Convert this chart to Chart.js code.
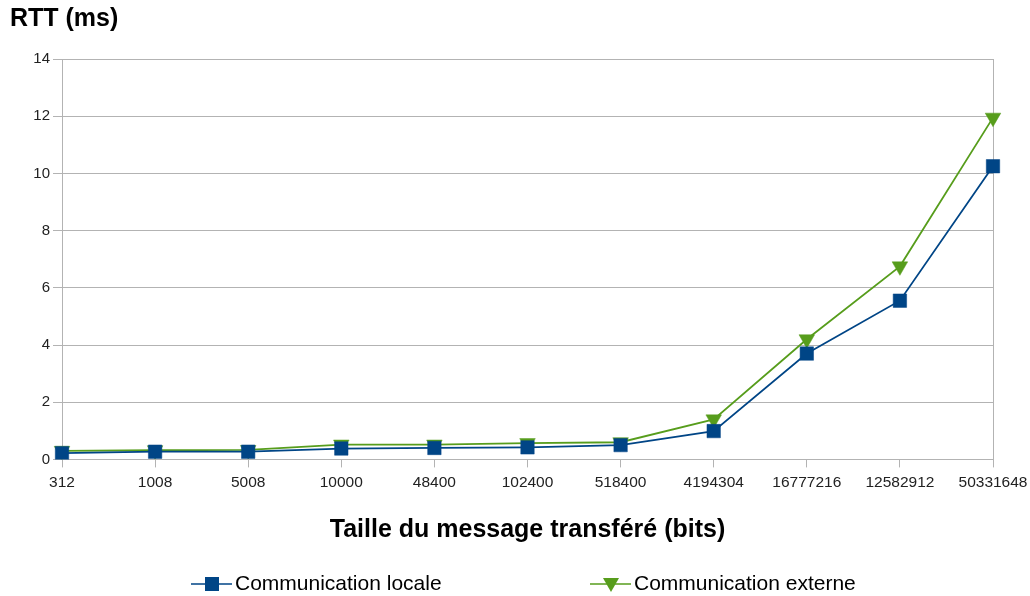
<!DOCTYPE html>
<html>
<head>
<meta charset="utf-8">
<script src="https://cdn.jsdelivr.net/npm/chart.js@4.4.1/dist/chart.umd.min.js"></script>
<style>
  html, body { margin: 0; padding: 0; background: #fff; }
  #wrap { width: 1030px; height: 596px; }
</style>
</head>
<body>
<div id="wrap"><canvas id="rttChart" width="1030" height="596"></canvas></div>
<script>
// Tailles de message (bits)
const categories = ['312', '1008', '5008', '10000', '48400', '102400', '518400', '4194304', '16777216', '12582912', '50331648'];
// RTT en ms
const localValues = [0.22, 0.27, 0.27, 0.38, 0.40, 0.42, 0.50, 0.99, 3.70, 5.55, 10.25];
const externalValues = [0.30, 0.32, 0.33, 0.52, 0.52, 0.57, 0.60, 1.40, 4.20, 6.75, 11.95];
const yTicks = [0, 2, 4, 6, 8, 10, 12, 14];

const BLUE = '#004586';
const GREEN = '#579d1c';
const FONT = '"Liberation Sans", Arial, sans-serif';

// Légende dessinée à la main (ligne + marqueur, comme LibreOffice)
const customLegend = {
    id: 'customLegend',
    afterDraw(chart) {
        const ctx = chart.ctx;
        const y = 584;
        const items = [
            { x: 191, label: chart.data.datasets[0].label, color: BLUE, shape: 'rect' },
            { x: 590, label: chart.data.datasets[1].label, color: GREEN, shape: 'tri' }
        ];
        ctx.save();
        items.forEach(it => {
            ctx.strokeStyle = it.color;
            ctx.lineWidth = 1.5;
            ctx.beginPath();
            ctx.moveTo(it.x, y);
            ctx.lineTo(it.x + 41, y);
            ctx.stroke();
            ctx.fillStyle = it.color;
            const cx = it.x + 21;
            if (it.shape === 'rect') {
                ctx.fillRect(cx - 7, y - 7, 14, 14);
            } else {
                ctx.beginPath();
                ctx.moveTo(cx - 8, y - 6);
                ctx.lineTo(cx + 8, y - 6);
                ctx.lineTo(cx, y + 8);
                ctx.closePath();
                ctx.fill();
            }
            ctx.fillStyle = '#000';
            ctx.font = '21px ' + FONT;
            ctx.textBaseline = 'middle';
            ctx.textAlign = 'left';
            ctx.fillText(it.label, it.x + 44, y);
        });
        ctx.restore();
    }
};

new Chart(document.getElementById('rttChart'), {
    type: 'line',
    data: {
        labels: categories,
        datasets: [{
            label: 'Communication locale',
            data: localValues,
            borderColor: BLUE,
            backgroundColor: BLUE,
            borderWidth: 1.8,
            pointStyle: 'rect',
            pointRadius: 9.5,
            pointHoverRadius: 9.5,
            pointBorderWidth: 0.5,
            tension: 0
        }, {
            label: 'Communication externe',
            data: externalValues,
            borderColor: GREEN,
            backgroundColor: GREEN,
            borderWidth: 1.8,
            pointStyle: 'triangle',
            rotation: 180,
            pointRadius: 9,
            pointHoverRadius: 9,
            pointBorderWidth: 0.5,
            tension: 0
        }]
    },
    plugins: [customLegend],
    options: {
        responsive: false,
        animation: false,
        layout: { padding: { left: 10, right: 0, top: 4, bottom: 51 } },
        plugins: {
            title: {
                display: true,
                text: 'RTT (ms)',
                align: 'start',
                color: '#000',
                font: { family: FONT, size: 25, weight: 'bold' },
                padding: { top: 0, bottom: 25 }
            },
            legend: { display: false },
            tooltip: { enabled: false }
        },
        scales: {
            x: {
                offset: false,
                afterFit: (axis) => { axis.paddingRight = 37; },
                grid: {
                    color: (ctx) => ctx.index === categories.length - 1 ? '#b3b3b3' : 'rgba(0,0,0,0)',
                    tickColor: '#b3b3b3',
                    tickLength: 8
                },
                border: { color: '#b3b3b3' },
                ticks: {
                    color: '#222',
                    font: { family: FONT, size: 15.5 },
                    maxRotation: 0,
                    autoSkip: false,
                    padding: 6
                },
                title: {
                    display: true,
                    text: 'Taille du message transféré (bits)',
                    color: '#000',
                    font: { family: FONT, size: 25, weight: 'bold' },
                    padding: { top: 17, bottom: 0 }
                }
            },
            y: {
                min: 0,
                max: 14,
                afterBuildTicks: (axis) => { axis.ticks = yTicks.map(v => ({ value: v })); },
                afterFit: (axis) => { axis.width = 52; },
                grid: { color: '#b3b3b3', tickColor: '#b3b3b3', tickLength: 9 },
                border: { color: '#b3b3b3' },
                ticks: {
                    color: '#222',
                    font: { family: FONT, size: 15 },
                    padding: 3
                }
            }
        }
    }
});
</script>
</body>
</html>
